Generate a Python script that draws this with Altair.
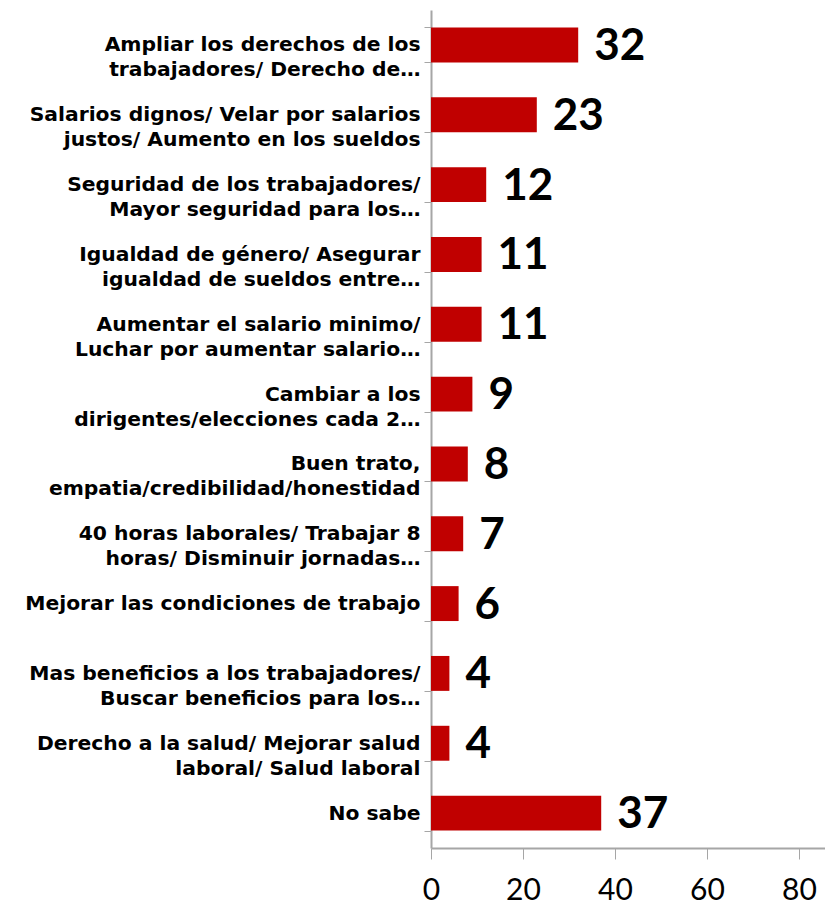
import altair as alt
import pandas as pd

categories = [
    "Ampliar los derechos de los|trabajadores/ Derecho de…",
    "Salarios dignos/ Velar por salarios|justos/ Aumento en los sueldos",
    "Seguridad de los trabajadores/|Mayor seguridad para los…",
    "Igualdad de género/ Asegurar|igualdad de sueldos entre…",
    "Aumentar el salario minimo/|Luchar por aumentar salario…",
    "Cambiar a los|dirigentes/elecciones cada 2…",
    "Buen trato,|empatia/credibilidad/honestidad",
    "40 horas laborales/ Trabajar 8|horas/ Disminuir jornadas…",
    "Mejorar las condiciones de trabajo",
    "Mas beneficios a los trabajadores/|Buscar beneficios para los…",
    "Derecho a la salud/ Mejorar salud|laboral/ Salud laboral",
    "No sabe",
]
values = [32, 23, 12, 11, 11, 9, 8, 7, 6, 4, 4, 37]
x_ticks = [0, 20, 40, 60, 80]

df = pd.DataFrame({"cat": categories, "val": values})

AXIS_GRAY = "#A6A6A6"

y_enc = alt.Y(
    "cat:N",
    sort=None,
    title=None,
    scale=alt.Scale(paddingInner=0.5, paddingOuter=0.25),
    axis=alt.Axis(
        labelExpr="split(datum.label, '|')",
        labelFont="DejaVu Sans",
        labelFontWeight="bold",
        labelFontSize=20.3,
        labelLineHeight=25,
        labelColor="black",
        labelAlign="right",
        labelBaseline="middle",
        labelPadding=4,
        labelLimit=500,
        tickSize=7,
        tickBand="extent",
        tickColor=AXIS_GRAY,
        domainColor=AXIS_GRAY,
        domainWidth=2,
        grid=False,
    ),
)

x_enc = alt.X(
    "val:Q",
    title=None,
    scale=alt.Scale(domain=[0, 85.65], nice=False),
    axis=alt.Axis(
        values=x_ticks,
        grid=False,
        tickSize=11,
        tickColor=AXIS_GRAY,
        domainColor=AXIS_GRAY,
        domainWidth=2,
        labelFont="Lato",
        labelFontSize=30,
        labelColor="black",
        labelPadding=16,
        labelFlush=False,
        format="d",
    ),
)

base = alt.Chart(df)

bars = base.mark_bar(color="#C00000").encode(x=x_enc, y=y_enc)

labels = base.mark_text(
    align="left",
    baseline="middle",
    dx=16,
    dy=2,
    font="Lato",
    fontWeight="bold",
    fontSize=44,
    color="black",
).encode(
    x=alt.X("val:Q"),
    y=alt.Y("cat:N", sort=None),
    text=alt.Text("val:Q", format="d"),
)

chart = (
    alt.layer(bars, labels)
    .properties(
        width=394,
        height=838,
        autosize=alt.AutoSizeParams(type="none"),
        padding={"left": 423, "top": 2, "right": 0, "bottom": 58},
    )
    .configure_view(stroke=None)
)

chart.save("out.html", embed_options={"renderer": "svg", "actions": False})
